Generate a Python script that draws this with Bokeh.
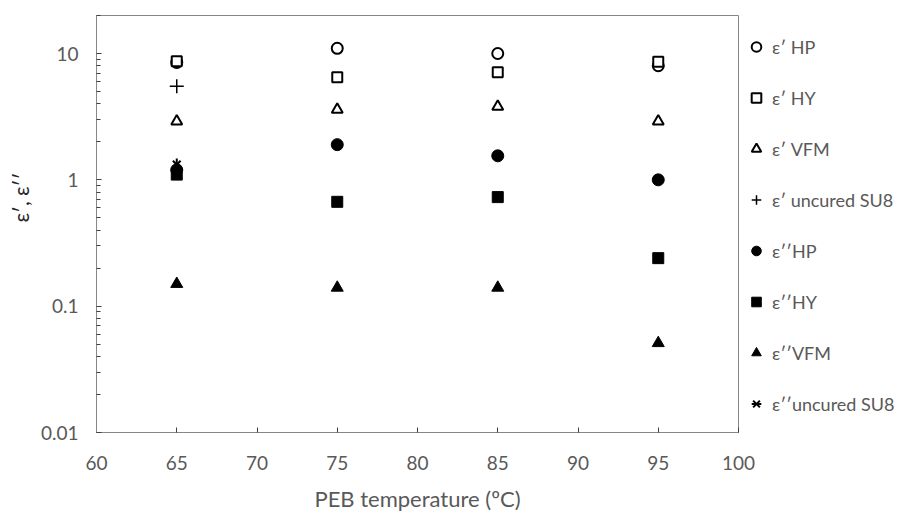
from bokeh.plotting import figure
from bokeh.models import (FixedTicker, CustomJSTickFormatter, Legend, LegendItem, Range1d, Title)
from bokeh.embed import file_html
from bokeh.resources import INLINE

temps = [65, 75, 85, 95]
eps1_hp = [8.5, 11.0, 10.0, 8.0]
eps1_hy = [8.7, 6.5, 7.1, 8.6]
eps1_vfm = [2.9, 3.6, 3.8, 2.9]
eps2_hp = [1.2, 1.9, 1.55, 1.0]
eps2_hy = [1.1, 0.67, 0.73, 0.24]
eps2_vfm = [0.15, 0.14, 0.14, 0.051]
uncured_temp = [65]
eps1_uncured = [5.5]
eps2_uncured = [1.32]

y_major = [0.01, 0.1, 1, 10]
y_minor = [m * d for d in [0.01, 0.1, 1, 10] for m in range(2, 10)]
x_ticks = [60, 65, 70, 75, 80, 85, 90, 95, 100]

FONT = "Lato"
GRAY = "#595959"
AX = "#868686"

p = figure(frame_width=642, frame_height=417, y_axis_type="log",
           x_range=Range1d(60, 100), y_range=Range1d(0.01, 20),
           output_backend="svg", toolbar_location=None,
           min_border_left=96, min_border_top=15, min_border_bottom=70, min_border_right=5)
p.outline_line_color = AX
p.xgrid.visible = False
p.ygrid.visible = False
p.background_fill_color = "white"
p.border_fill_color = "white"

for ax in (p.xaxis[0], p.yaxis[0]):
    ax.axis_line_color = AX
    ax.major_tick_line_color = "#404040"
    ax.minor_tick_line_color = "#404040"
    ax.major_tick_in = 5
    ax.major_tick_out = 0
    ax.minor_tick_in = 4
    ax.minor_tick_out = 0
    ax.major_label_text_font = FONT
    ax.major_label_text_font_size = "19px"
    ax.major_label_text_color = GRAY
    ax.axis_label_text_font = FONT
    ax.axis_label_text_font_style = "normal"

p.xaxis.ticker = FixedTicker(ticks=x_ticks)
p.xaxis.major_label_standoff = 23
p.xaxis.axis_label = "PEB temperature (ºC)"
p.xaxis.axis_label_text_font_size = "22px"
p.xaxis.axis_label_text_color = GRAY
p.xaxis.axis_label_standoff = 12

p.yaxis.ticker = FixedTicker(ticks=y_major, minor_ticks=y_minor)
p.yaxis.formatter = CustomJSTickFormatter(code="return String(tick);")
p.yaxis.major_label_standoff = 18

ytitle = Title(text="ε′, ε′′", align="left", offset=210, standoff=10, text_font=FONT,
               text_font_size="21px", text_font_style="normal", text_color="#262626")
p.add_layout(ytitle, "left")

S = 11
open_kw = dict(fill_color="white", line_color="black", line_width=2)
fill_kw = dict(fill_color="black", line_color="black", line_width=1)

r1 = p.scatter(temps, eps1_hp, marker="circle", size=S, **open_kw)
r2 = p.scatter(temps, eps1_hy, marker="square", size=S - 1, **open_kw)
r3 = p.scatter(temps, eps1_vfm, marker="triangle", size=S, **open_kw)
r4 = p.scatter(uncured_temp, eps1_uncured, marker="cross", size=14, line_color="black", line_width=1.5)
r5 = p.scatter(temps, eps2_hp, marker="circle", size=S + 1, **fill_kw)
r6 = p.scatter(temps, eps2_hy, marker="square", size=S, **fill_kw)
r7 = p.scatter(temps, eps2_vfm, marker="triangle", size=S + 1, **fill_kw)
r8a = p.scatter(uncured_temp, eps2_uncured, marker="x", size=11, line_color="black", line_width=2)
r8b = p.scatter(uncured_temp, eps2_uncured, marker="dash", angle=1.5708, size=12, line_color="black", line_width=2)

labels = ["ε′ HP", "ε′ HY", "ε′ VFM", "ε′ uncured SU8",
          "ε′′HP", "ε′′HY", "ε′′VFM", "ε′′uncured SU8"]
rends = [[r1], [r2], [r3], [r4], [r5], [r6], [r7], [r8a, r8b]]
legend = Legend(items=[LegendItem(label=l, renderers=r) for l, r in zip(labels, rends)],
                location="top_left", margin=6, padding=0,
                glyph_width=24, glyph_height=51, label_height=51, spacing=0,
                label_standoff=4, label_text_font=FONT, label_text_font_size="18px",
                label_text_color=GRAY, border_line_color=None, background_fill_alpha=0)
p.add_layout(legend, "right")

open("out.html", "w").write(file_html(p, INLINE))
